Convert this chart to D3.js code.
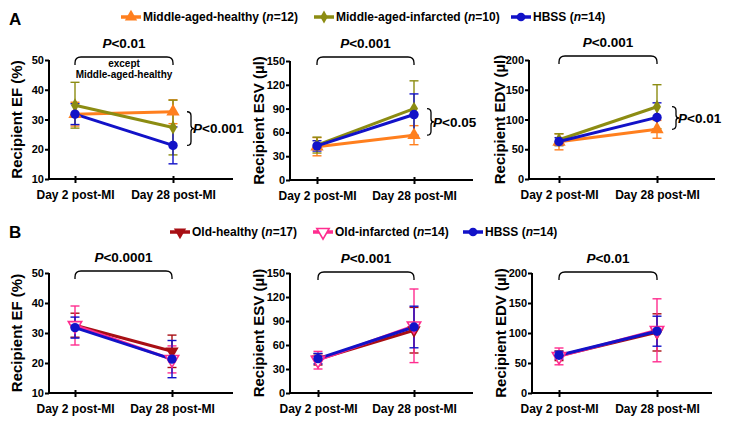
<!DOCTYPE html>
<html><head><meta charset="utf-8">
<script src="https://cdn.jsdelivr.net/npm/d3@7"></script>
<style>
html,body{margin:0;padding:0;background:#fff;}
svg text{font-family:"Liberation Sans",Arial,sans-serif;font-weight:bold;fill:#000;}
</style></head>
<body><svg id="c" width="729" height="428"></svg>
<script>
// ---------- data ----------
const days = ["Day 2 post-MI", "Day 28 post-MI"];

const groupsA = ["Middle-aged-healthy", "Middle-aged-infarcted", "HBSS"];
const nA = [12, 10, 14];
const colorsA = ["#ff7f1e", "#8c8c12", "#1212c8"];
const shapesA = ["triUp", "diamond", "circle"];

const groupsB = ["Old-healthy", "Old-infarcted", "HBSS"];
const nB = [17, 14, 14];
const colorsB = ["#a80f14", "#ff2d8f", "#1212c8"];
const shapesB = ["triDown", "triDownOpen", "circle"];

// Panel A: means and error (half-width) per group, [day2, day28]
const efA_mean = [[31.8, 32.6], [34.8, 27.3], [31.8, 21.3]];
const efA_err  = [[4.0, 4.0], [7.7, 9.2], [3.5, 6.2]];
const esvA_mean = [[42, 56.5], [44, 90], [43, 82.5]];
const esvA_err  = [[11.5, 12], [10, 35], [6.5, 26]];
const edvA_mean = [[62.5, 83.5], [66, 121.5], [63, 103.5]];
const edvA_err  = [[13.5, 15], [10, 37], [6.5, 24.5]];

// Panel B
const efB_mean = [[32.6, 23.9], [32.5, 21.2], [31.8, 21.3]];
const efB_err  = [[4.0, 5.4], [6.5, 4.5], [3.5, 6.2]];
const esvB_mean = [[42, 78.5], [41, 84], [43, 82.5]];
const esvB_err  = [[7, 28.5], [11, 46], [6.5, 26]];
const edvB_mean = [[62, 101], [61, 104.5], [63, 103]];
const edvB_err  = [[8, 31], [14, 52.5], [6.5, 25]];

const efTicks = [10, 20, 30, 40, 50];
const esvTicks = [0, 30, 60, 90, 120, 150];
const edvTicks = [0, 50, 100, 150, 200];

// ---------- drawing ----------
const svg = d3.select("#c");
const FONT = '"Liberation Sans",Arial,sans-serif';

function symbolPath(shape, size) {
  if (shape === "circle") return d3.symbol(d3.symbolCircle, size)();
  if (shape === "diamond") return d3.symbol(d3.symbolDiamond, size * 0.8)();
  return d3.symbol(d3.symbolTriangle, size * 1.1)();
}
function drawMarker(g, shape, color, x, y, size) {
  const p = g.append("path").attr("d", symbolPath(shape, size));
  let tr = `translate(${x},${y})`;
  if (shape === "triDown" || shape === "triDownOpen") tr += " rotate(180)";
  p.attr("transform", tr);
  if (shape === "triDownOpen") p.attr("fill", "#fff").attr("stroke", color).attr("stroke-width", 1.6);
  else p.attr("fill", color);
}

function panel(opt) {
  const g = svg.append("g");
  const y = d3.scaleLinear().domain(opt.domain).range([opt.bottom, opt.top]);
  const x = d3.scalePoint().domain(days).range([opt.x1, opt.x2]);

  // y axis
  const ya = g.append("g").attr("transform", `translate(${opt.left},0)`)
    .call(d3.axisLeft(y).tickValues(opt.ticks).tickSize(4).tickPadding(1).tickFormat(d3.format("d")));
  ya.select(".domain").attr("stroke", "#000").attr("stroke-width", 2).attr("d", `M0,${opt.top}V${opt.bottom}`);
  ya.selectAll(".tick line").attr("stroke", "#000").attr("stroke-width", 2);
  ya.selectAll(".tick text").style("font-family", FONT).style("font-weight", "bold").style("font-size", "11px").attr("fill", "#000");

  // x axis
  const xa = g.append("g").attr("transform", `translate(0,${opt.bottom})`)
    .call(d3.axisBottom(x).tickSize(4).tickPadding(7));
  xa.select(".domain").attr("stroke", "#000").attr("stroke-width", 2).attr("d", `M${opt.left},0H${opt.right}`);
  xa.selectAll(".tick line").attr("stroke", "#000").attr("stroke-width", 2).attr("y1", -3);
  xa.selectAll(".tick text").style("font-family", FONT).style("font-weight", "bold").style("font-size", "12px").attr("fill", "#000");

  // y title
  g.append("text").attr("transform", `translate(${opt.titleX},${(opt.top + opt.bottom) / 2}) rotate(-90)`)
    .attr("text-anchor", "middle").attr("dy", "0.35em").style("font-size", "15px").text(opt.title);

  // series
  opt.means.forEach((m, i) => {
    const col = opt.colors[i];
    const pts = days.map((d, j) => ({ x: x(d), m: m[j], e: opt.errs[i][j] }));
    pts.forEach(p => {
      const eg = g.append("g").attr("stroke", col).attr("stroke-width", 1.4);
      eg.append("line").attr("x1", p.x).attr("x2", p.x).attr("y1", y(p.m - p.e)).attr("y2", y(p.m + p.e));
      eg.append("line").attr("x1", p.x - 4.5).attr("x2", p.x + 4.5).attr("y1", y(p.m - p.e)).attr("y2", y(p.m - p.e));
      eg.append("line").attr("x1", p.x - 4.5).attr("x2", p.x + 4.5).attr("y1", y(p.m + p.e)).attr("y2", y(p.m + p.e));
    });
  });
  opt.means.forEach((m, i) => {
    const col = opt.colors[i];
    const pts = days.map((d, j) => [x(d), y(m[j])]);
    g.append("path").attr("d", d3.line()(pts)).attr("fill", "none").attr("stroke", col).attr("stroke-width", 3);
  });
  opt.means.forEach((m, i) => {
    days.forEach((d, j) => drawMarker(g, opt.shapes[i], opt.colors[i], x(d), y(m[j]), 70));
  });

  // top bracket
  const bx1 = x(days[0]), bx2 = x(days[1]), by = opt.brY, r = 6;
  g.append("path").attr("fill", "none").attr("stroke", "#000").attr("stroke-width", 1.3)
    .attr("d", `M${bx1},${by + 8}V${by + r}Q${bx1},${by} ${bx1 + r},${by}H${bx2 - r}Q${bx2},${by} ${bx2},${by + r}V${by + 8}`);
  const pt = g.append("text").attr("x", (bx1 + bx2) / 2).attr("y", by - 9).attr("text-anchor", "middle").style("font-size", "13.5px");
  pt.append("tspan").style("font-style", "italic").text("P");
  pt.append("tspan").text(opt.pTop);
  if (opt.note) {
    g.append("text").attr("x", (bx1 + bx2) / 2).attr("y", by + 10).attr("text-anchor", "middle").style("font-size", "10px").text(opt.note[0]);
    g.append("text").attr("x", (bx1 + bx2) / 2).attr("y", by + 21).attr("text-anchor", "middle").style("font-size", "10px").text(opt.note[1]);
  }
  // side brace
  if (opt.side) {
    const s = opt.side;
    const y1 = y(s.v1), y2 = y(s.v2), xm = bx2 + s.dx, xb = xm + 4, ym = (y1 + y2) / 2;
    g.append("path").attr("fill", "none").attr("stroke", "#000").attr("stroke-width", 1.3)
      .attr("d", `M${xm},${y1}Q${xb},${y1} ${xb},${y1 + 4}V${ym - 3}Q${xb},${ym} ${xb + 3},${ym}Q${xb},${ym} ${xb},${ym + 3}V${y2 - 4}Q${xb},${y2} ${xm},${y2}`);
    const st = g.append("text").attr("x", xb + 2).attr("y", ym).attr("dy", "0.35em").style("font-size", "13.5px");
    st.append("tspan").style("font-style", "italic").text("P");
    st.append("tspan").text(s.p);
  }
}

function legend(yc, items) {
  items.forEach(it => {
    const g = svg.append("g");
    g.append("line").attr("x1", it.x).attr("x2", it.x + 20).attr("y1", yc).attr("y2", yc).attr("stroke", it.color).attr("stroke-width", 3.5);
    drawMarker(g, it.shape, it.color, it.x + 10, yc, 60);
    const t = g.append("text").attr("x", it.x + 22).attr("y", yc).attr("dy", "0.36em").style("font-size", "12px");
    t.append("tspan").text(it.label + " (");
    t.append("tspan").style("font-style", "italic").text("n");
    t.append("tspan").text("=" + it.n + ")");
  });
}

// panel letters
svg.append("text").attr("x", 9).attr("y", 25).style("font-size", "17px").text("A");
svg.append("text").attr("x", 9).attr("y", 238).style("font-size", "17px").text("B");

legend(17, [
  { x: 121, color: colorsA[0], shape: shapesA[0], label: groupsA[0], n: nA[0] },
  { x: 314, color: colorsA[1], shape: shapesA[1], label: groupsA[1], n: nA[1] },
  { x: 511, color: colorsA[2], shape: shapesA[2], label: groupsA[2], n: nA[2] }
]);
legend(232, [
  { x: 170, color: colorsB[0], shape: shapesB[0], label: groupsB[0], n: nB[0] },
  { x: 313, color: colorsB[1], shape: shapesB[1], label: groupsB[1], n: nB[1] },
  { x: 463, color: colorsB[2], shape: shapesB[2], label: groupsB[2], n: nB[2] }
]);

// Panel A
panel({ left: 49, right: 233, top: 60, bottom: 179, x1: 75, x2: 173, domain: [10, 50], ticks: efTicks,
  title: "Recipient EF (%)", titleX: 17, means: efA_mean, errs: efA_err, colors: colorsA, shapes: shapesA,
  brY: 57, pTop: "<0.01", note: ["except", "Middle-aged-healthy"], side: { v1: 32.6, v2: 21.3, p: "<0.001", dx: 14 } });
panel({ left: 290, right: 473, top: 61, bottom: 180, x1: 317, x2: 414, domain: [0, 150], ticks: esvTicks,
  title: "Recipient ESV (µl)", titleX: 259, means: esvA_mean, errs: esvA_err, colors: colorsA, shapes: shapesA,
  brY: 57, pTop: "<0.001", side: { v1: 90, v2: 56.5, p: "<0.05", dx: 13 } });
panel({ left: 529, right: 715, top: 60, bottom: 179, x1: 559, x2: 657, domain: [0, 200], ticks: edvTicks,
  title: "Recipient EDV (µl)", titleX: 500, means: edvA_mean, errs: edvA_err, colors: colorsA, shapes: shapesA,
  brY: 56, pTop: "<0.001", side: { v1: 121.5, v2: 83.5, p: "<0.01", dx: 15 } });

// Panel B
panel({ left: 49, right: 233, top: 273, bottom: 393, x1: 75, x2: 172, domain: [10, 50], ticks: efTicks,
  title: "Recipient EF (%)", titleX: 17, means: efB_mean, errs: efB_err, colors: colorsB, shapes: shapesB,
  brY: 271, pTop: "<0.0001" });
panel({ left: 290, right: 473, top: 273, bottom: 393, x1: 318, x2: 414, domain: [0, 150], ticks: esvTicks,
  title: "Recipient ESV (µl)", titleX: 259, means: esvB_mean, errs: esvB_err, colors: colorsB, shapes: shapesB,
  brY: 272, pTop: "<0.001" });
panel({ left: 532, right: 712, top: 273, bottom: 393, x1: 559, x2: 657, domain: [0, 200], ticks: edvTicks,
  title: "Recipient EDV (µl)", titleX: 501, means: edvB_mean, errs: edvB_err, colors: colorsB, shapes: shapesB,
  brY: 272, pTop: "<0.01" });
</script></body></html>
